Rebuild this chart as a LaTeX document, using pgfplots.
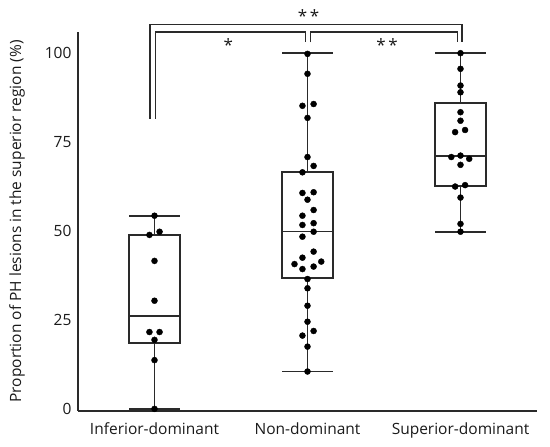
\documentclass[border=0pt]{standalone}
\usepackage{fontspec}
\setmainfont{Open Sans}
\usepackage{pgfplots}
\pgfplotsset{compat=1.18}
\definecolor{ln}{HTML}{2A2A2A}
\definecolor{txt}{HTML}{1A1A1A}
\pgfplotsset{
  bx/.style={ln, line width=1.8pt, mark=none, line join=miter},
  pts/.style={only marks, mark=*, mark size=3pt, color=black},
}
\begin{document}
\begin{tikzpicture}
\begin{axis}[
  x=153pt, y=3.557pt,
  xmin=0.5, xmax=3.5,
  ymin=-0.6, ymax=106,
  axis lines=left,
  axis line style={-, ln, line width=1.5pt},
  xtick={1,2,3},
  xticklabels={Inferior-dominant,Non-dominant,Superior-dominant},
  ytick={0,25,50,75,100},
  major tick length=0pt,
  tick label style={font=\fontsize{15.5}{18}\selectfont, text=txt},
  /pgf/number format/assume math mode=true,
  yticklabel style={xshift=-3pt},
  xticklabel style={yshift=-8pt},
  ylabel={Proportion of PH lesions in the superior region (\%)},
  every axis y label/.style={at={(axis description cs:-0.1326,0.5)}, anchor=center, rotate=90,
    font=\fontsize{15.5}{18}\selectfont, text=txt},
  clip=false,
]
% Inferior-dominant: whiskers 0 / 54.3, quartiles 18.5 / 48.9, median 26.2
\addplot[bx] coordinates {(1,0) (1,54.3)};
\addplot[bx, fill=white] coordinates {(0.8335,18.5) (1.1665,18.5) (1.1665,48.9) (0.8335,48.9)} -- cycle;
\addplot[bx] coordinates {(0.8335,26.2) (1.1665,26.2)};
\addplot[bx] coordinates {(0.8335,0) (1.1665,0)};
\addplot[bx] coordinates {(0.8335,54.3) (1.1665,54.3)};
% Non-dominant: whiskers 10.5 / 100, quartiles 36.7 / 66.5, median 49.85
\addplot[bx] coordinates {(2,10.5) (2,100)};
\addplot[bx, fill=white] coordinates {(1.8335,36.7) (2.1665,36.7) (2.1665,66.5) (1.8335,66.5)} -- cycle;
\addplot[bx] coordinates {(1.8335,49.85) (2.1665,49.85)};
\addplot[bx] coordinates {(1.8335,10.5) (2.1665,10.5)};
\addplot[bx] coordinates {(1.8335,100) (2.1665,100)};
% Superior-dominant: whiskers 49.8 / 100, quartiles 62.6 / 86.1, median 71.2
\addplot[bx] coordinates {(3,49.8) (3,100)};
\addplot[bx, fill=white] coordinates {(2.8335,62.6) (3.1665,62.6) (3.1665,86.1) (2.8335,86.1)} -- cycle;
\addplot[bx] coordinates {(2.8335,71.2) (3.1665,71.2)};
\addplot[bx] coordinates {(2.8335,49.8) (3.1665,49.8)};
\addplot[bx] coordinates {(2.8335,100) (3.1665,100)};
% individual points
\addplot[pts] coordinates {
  (1,54.3) (0.967,48.9) (1.033,49.8) (1,41.6) (1,30.4) (0.967,21.6) (1.033,21.6)
  (1,19.4) (1,13.7) (1,0)
};
\addplot[pts] coordinates {
  (2,99.8) (2,94.2) (1.967,85.2) (2.04,85.7) (2,81.8) (2,70.8) (2.04,68.3)
  (1.967,66.5) (1.967,60.7) (2.04,60.9) (2,58.8) (2.04,55.9) (1.967,54.3)
  (1.967,51.7) (2.04,52.2) (2.04,49.8) (1.967,48.4) (2.04,44.2) (1.967,42.5)
  (2.09,41.4) (1.915,40.7) (2.04,40.0) (1.967,39.3) (2,36.5) (2,33.9)
  (2,29.0) (2,24.5) (2.04,21.9) (1.967,20.6) (2,17.5) (2,10.5)
};
\addplot[pts] coordinates {
  (3,100) (3,95.6) (3,90.9) (3,89.0) (3,83.4) (3,81.0) (3.03,78.4) (2.965,77.8)
  (2.94,70.8) (3,71.2) (3.057,70.3) (3,68.6) (2.965,62.5) (3.03,62.9)
  (3,59.4) (3,52.0) (3,49.8)
};
% significance brackets
\draw[ln, line width=1.5pt] (axis cs:0.972,81.5) -- (axis cs:0.972,108) -- (axis cs:3.01,108) -- (axis cs:3.01,103);
\draw[ln, line width=1.5pt] (axis cs:1.005,81.5) -- (axis cs:1.005,105.9) -- (axis cs:1.987,105.9) -- (axis cs:1.987,103);
\draw[ln, line width=1.5pt] (axis cs:2.018,103) -- (axis cs:2.018,105.9) -- (axis cs:2.98,105.9) -- (axis cs:2.98,103);
\node[font=\fontsize{17}{18}\selectfont, text=txt] at (axis cs:2.007,110.3) {*\,*};
\node[font=\fontsize{17}{18}\selectfont, text=txt] at (axis cs:1.483,102.3) {*};
\node[font=\fontsize{17}{18}\selectfont, text=txt] at (axis cs:2.52,102.3) {*\,*};
\coordinate (O) at (axis cs:0.5,-0.6);
\end{axis}
\path[use as bounding box] ([shift={(-78pt,-36pt)}]O) rectangle ([shift={(472pt,411pt)}]O);
\end{tikzpicture}
\end{document}
